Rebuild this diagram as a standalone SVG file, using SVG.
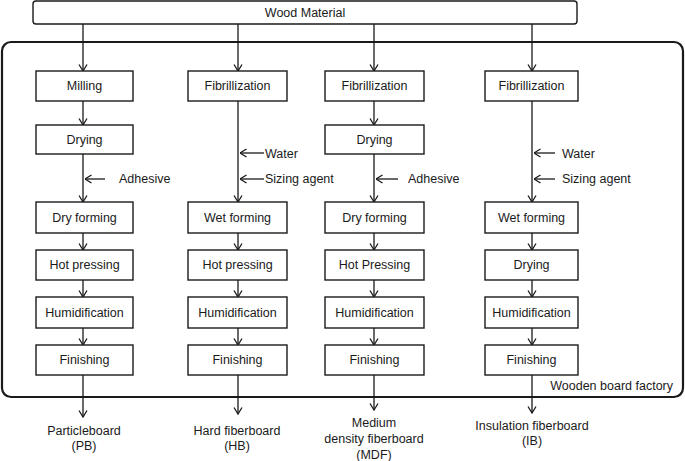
<svg xmlns="http://www.w3.org/2000/svg" width="685" height="461" viewBox="0 0 685 461">
<style>
text{font-family:"Liberation Sans",Arial,sans-serif;font-size:12.5px;fill:#1a1a1a;text-anchor:middle;dominant-baseline:central}
.box{fill:#fff;stroke:#1a1a1a;stroke-width:1.4}
.ln{stroke:#1a1a1a;stroke-width:1.3;fill:none;marker-end:url(#arr)}
.lab{text-anchor:start}
</style>
<defs>
<marker id="arr" viewBox="0 0 8 10" refX="7.5" refY="5" markerWidth="8" markerHeight="10" markerUnits="userSpaceOnUse" orient="auto">
<path d="M1,1 L7.5,5 L1,9" fill="none" stroke="#1a1a1a" stroke-width="1.3"/>
</marker>
</defs>
<rect x="2" y="42" width="681" height="355" rx="9" fill="none" stroke="#1a1a1a" stroke-width="2.2"/>
<text x="673" y="386" style="text-anchor:end">Wooden board factory</text>
<g id="wood"><rect class="box" x="33" y="1" width="544" height="23" rx="3" stroke-width="1.1"/><text x="305" y="12.5">Wood Material</text></g>
<g id="connectors">
<line class="ln" x1="83" y1="24" x2="83" y2="71"/>
<line class="ln" x1="238" y1="24" x2="238" y2="71"/>
<line class="ln" x1="374" y1="24" x2="374" y2="71"/>
<line class="ln" x1="532" y1="24" x2="532" y2="71"/>
<line class="ln" x1="83" y1="101" x2="83" y2="125"/>
<line class="ln" x1="374" y1="101" x2="374" y2="125"/>
<line class="ln" x1="83" y1="154" x2="83" y2="202"/>
<line class="ln" x1="374" y1="154" x2="374" y2="202"/>
<line class="ln" x1="238" y1="101" x2="238" y2="202"/>
<line class="ln" x1="532" y1="101" x2="532" y2="202"/>
<line class="ln" x1="105" y1="179" x2="85" y2="179"/>
<line class="ln" x1="398" y1="179" x2="376" y2="179"/>
<line class="ln" x1="264" y1="153" x2="240" y2="153"/>
<line class="ln" x1="264" y1="179" x2="240" y2="179"/>
<line class="ln" x1="555" y1="153" x2="534" y2="153"/>
<line class="ln" x1="555" y1="179" x2="534" y2="179"/>
<g>
<line class="ln" x1="83" y1="233" x2="83" y2="250"/><line class="ln" x1="238" y1="233" x2="238" y2="250"/><line class="ln" x1="374" y1="233" x2="374" y2="250"/><line class="ln" x1="532" y1="233" x2="532" y2="250"/>
<line class="ln" x1="83" y1="280" x2="83" y2="297"/><line class="ln" x1="238" y1="280" x2="238" y2="297"/><line class="ln" x1="374" y1="280" x2="374" y2="297"/><line class="ln" x1="532" y1="280" x2="532" y2="297"/>
<line class="ln" x1="83" y1="328" x2="83" y2="345"/><line class="ln" x1="238" y1="328" x2="238" y2="345"/><line class="ln" x1="374" y1="328" x2="374" y2="345"/><line class="ln" x1="532" y1="328" x2="532" y2="345"/>
<line class="ln" x1="83" y1="375" x2="83" y2="417"/><line class="ln" x1="238" y1="375" x2="238" y2="414"/><line class="ln" x1="374" y1="375" x2="374" y2="410"/><line class="ln" x1="532" y1="375" x2="532" y2="413"/>
</g>
</g>
<text class="lab" x="119" y="179">Adhesive</text>
<text class="lab" x="265" y="154">Water</text>
<text class="lab" x="265" y="179">Sizing agent</text>
<text class="lab" x="408" y="179">Adhesive</text>
<text class="lab" x="562" y="154">Water</text>
<text class="lab" x="562" y="179">Sizing agent</text>
<g id="c1">
<g id="c1r1"><rect class="box" x="36" y="71" width="97" height="30"/><text x="84.5" y="86">Milling</text></g>
<g id="c1r2"><rect class="box" x="36" y="125" width="97" height="29"/><text x="84.5" y="139.5">Drying</text></g>
<g id="c1r3"><rect class="box" x="36" y="202" width="97" height="31"/><text x="84.5" y="217.5">Dry forming</text></g>
<g id="c1r4"><rect class="box" x="36" y="250" width="97" height="30"/><text x="84.5" y="265">Hot pressing</text></g>
<g id="c1r5"><rect class="box" x="36" y="297" width="97" height="31"/><text x="84.5" y="312.5">Humidification</text></g>
<g id="c1r6"><rect class="box" x="36" y="345" width="97" height="30"/><text x="84.5" y="360">Finishing</text></g>
</g>
<g id="c2">
<g id="c2r1"><rect class="box" x="188" y="71" width="99" height="30"/><text x="237.5" y="86">Fibrillization</text></g>
<g id="c2r3"><rect class="box" x="188" y="202" width="99" height="31"/><text x="237.5" y="217.5">Wet forming</text></g>
<g id="c2r4"><rect class="box" x="188" y="250" width="99" height="30"/><text x="237.5" y="265">Hot pressing</text></g>
<g id="c2r5"><rect class="box" x="188" y="297" width="99" height="31"/><text x="237.5" y="312.5">Humidification</text></g>
<g id="c2r6"><rect class="box" x="188" y="345" width="99" height="30"/><text x="237.5" y="360">Finishing</text></g>
</g>
<g id="c3">
<g id="c3r1"><rect class="box" x="325" y="71" width="99" height="30"/><text x="374.5" y="86">Fibrillization</text></g>
<g id="c3r2"><rect class="box" x="325" y="125" width="99" height="29"/><text x="374.5" y="139.5">Drying</text></g>
<g id="c3r3"><rect class="box" x="325" y="202" width="99" height="31"/><text x="374.5" y="217.5">Dry forming</text></g>
<g id="c3r4"><rect class="box" x="325" y="250" width="99" height="30"/><text x="374.5" y="265">Hot Pressing</text></g>
<g id="c3r5"><rect class="box" x="325" y="297" width="99" height="31"/><text x="374.5" y="312.5">Humidification</text></g>
<g id="c3r6"><rect class="box" x="325" y="345" width="99" height="30"/><text x="374.5" y="360">Finishing</text></g>
</g>
<g id="c4">
<g id="c4r1"><rect class="box" x="485" y="71" width="93" height="30"/><text x="531.5" y="86">Fibrillization</text></g>
<g id="c4r3"><rect class="box" x="485" y="202" width="93" height="31"/><text x="531.5" y="217.5">Wet forming</text></g>
<g id="c4r4"><rect class="box" x="485" y="250" width="93" height="30"/><text x="531.5" y="265">Drying</text></g>
<g id="c4r5"><rect class="box" x="485" y="297" width="93" height="31"/><text x="531.5" y="312.5">Humidification</text></g>
<g id="c4r6"><rect class="box" x="485" y="345" width="93" height="30"/><text x="531.5" y="360">Finishing</text></g>
</g>
<g id="pb"><text x="84" y="431">Particleboard</text><text x="84" y="446">(PB)</text></g>
<g id="hb"><text x="237" y="431">Hard fiberboard</text><text x="237" y="446">(HB)</text></g>
<g id="mdf"><text x="374" y="423">Medium</text><text x="374" y="439">density fiberboard</text><text x="374" y="455">(MDF)</text></g>
<g id="ib"><text x="532" y="426">Insulation fiberboard</text><text x="532" y="441">(IB)</text></g>
</svg>
